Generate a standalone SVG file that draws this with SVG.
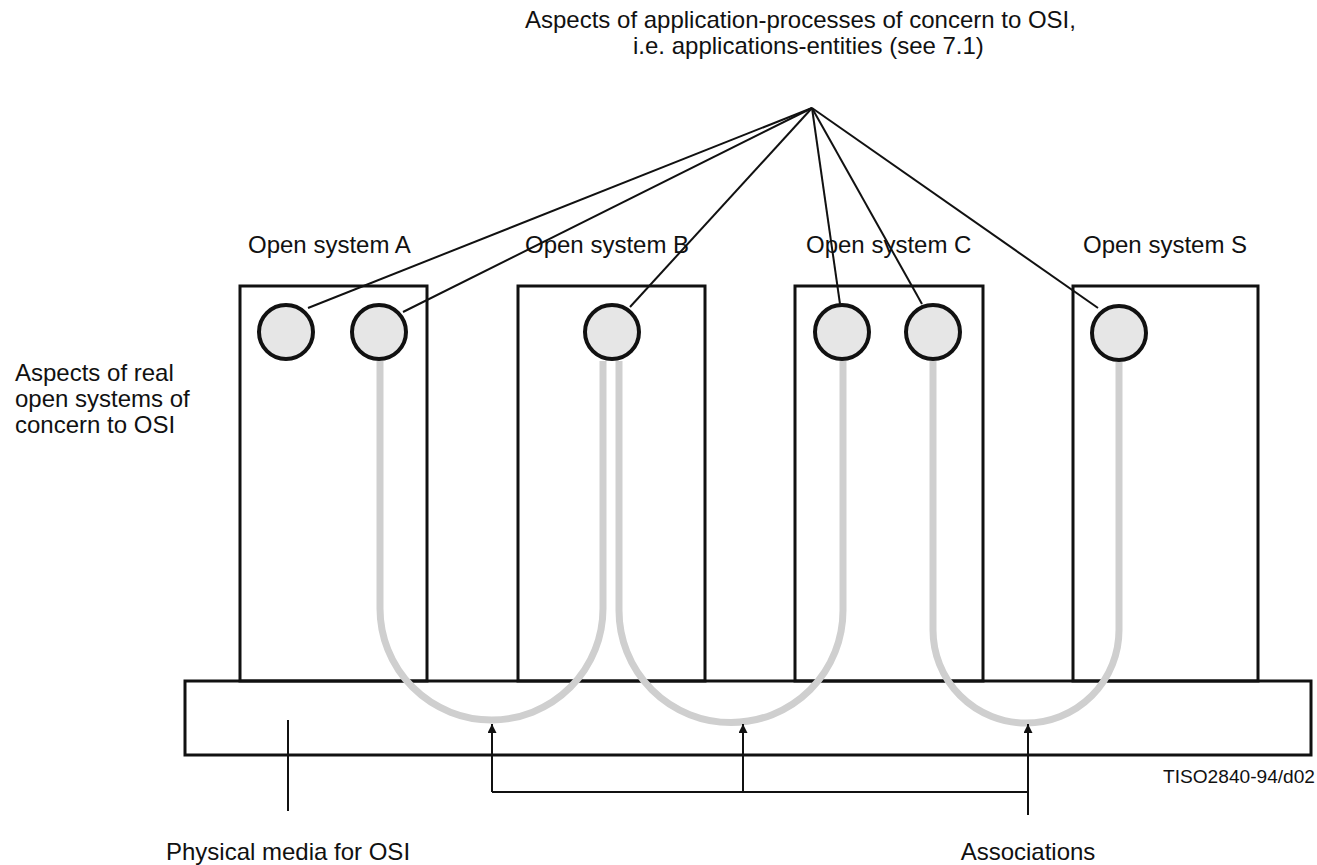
<svg xmlns="http://www.w3.org/2000/svg" width="1317" height="865" viewBox="0 0 1317 865">
<defs>
<style>
.t{font-family:"Liberation Sans",Arial,sans-serif;font-size:24px;fill:#111}
.box{fill:none;stroke:#111;stroke-width:3}
.ae{fill:#e6e6e6;stroke:#111;stroke-width:4}
.lead{stroke:#111;stroke-width:2;fill:none}
.tube{fill:none;stroke:#cfcfcf;stroke-width:7}
.ptr{stroke:#111;stroke-width:2;fill:none}
</style>
<marker id="ah" viewBox="0 0 10 10" refX="10" refY="5" markerWidth="9" markerHeight="9" markerUnits="userSpaceOnUse" orient="auto">
<path d="M0,0 L10,5 L0,10 z" fill="#111"/>
</marker>
</defs>
<rect width="1317" height="865" fill="#fff"/>

<g id="title">
<text class="t" x="525" y="28">Aspects of application-processes of concern to OSI,</text>
<text class="t" x="633" y="54">i.e. applications-entities (see 7.1)</text>
</g>

<g id="label-real">
<text class="t" x="15" y="381">Aspects of real</text>
<text class="t" x="15" y="407">open systems of</text>
<text class="t" x="15" y="433">concern to OSI</text>
</g>

<g id="physical-media">
<rect class="box" x="185" y="681" width="1126" height="74"/>
</g>

<g id="open-system-A">
<text class="t" x="248" y="253">Open system A</text>
<rect class="box" x="240" y="286" width="187" height="395"/>
<circle class="ae" cx="286" cy="332" r="27"/>
<circle class="ae" cx="379" cy="332" r="27"/>
</g>
<g id="open-system-B">
<text class="t" x="525" y="253">Open system B</text>
<rect class="box" x="518" y="286" width="187" height="395"/>
<circle class="ae" cx="612" cy="332" r="27"/>
</g>
<g id="open-system-C">
<text class="t" x="806" y="253">Open system C</text>
<rect class="box" x="795" y="286" width="188" height="395"/>
<circle class="ae" cx="842" cy="332" r="27"/>
<circle class="ae" cx="933" cy="332" r="27"/>
</g>
<g id="open-system-S">
<text class="t" x="1083" y="253">Open system S</text>
<rect class="box" x="1073" y="286" width="185" height="395"/>
<circle class="ae" cx="1119" cy="333" r="27"/>
</g>

<g id="connectors">
<g id="associations">
<path class="tube" d="M380,361 V608.5 A111.5,111.5 0 0 0 603,608.5 V361"/>
<path class="tube" d="M619,361 V610.5 A112,112 0 0 0 843,610.5 V361"/>
<path class="tube" d="M933,361 V630 A93,93 0 0 0 1119,630 V362"/>
</g>
<g id="leaders">
<line class="lead" x1="812" y1="108" x2="308" y2="308"/>
<line class="lead" x1="812" y1="108" x2="403" y2="312"/>
<line class="lead" x1="812" y1="108" x2="630" y2="307"/>
<line class="lead" x1="812" y1="108" x2="840" y2="304"/>
<line class="lead" x1="812" y1="108" x2="922" y2="304"/>
<line class="lead" x1="812" y1="108" x2="1098" y2="308"/>
</g>
<g id="assoc-pointer">
<path class="ptr" d="M492,792 H1028"/>
<line class="ptr" x1="492" y1="792" x2="492" y2="724" marker-end="url(#ah)"/>
<line class="ptr" x1="743" y1="792" x2="743" y2="724" marker-end="url(#ah)"/>
<line class="ptr" x1="1028" y1="815" x2="1028" y2="724" marker-end="url(#ah)"/>
</g>
<line id="media-pointer" class="ptr" x1="288" y1="720" x2="288" y2="811"/>
</g>

<g id="captions">
<text class="t" x="288" y="860" text-anchor="middle">Physical media for OSI</text>
<text class="t" x="1028" y="860" text-anchor="middle">Associations</text>
<text class="t" x="1163" y="783" style="font-size:18px" textLength="152" lengthAdjust="spacingAndGlyphs">TISO2840-94/d02</text>
</g>
</svg>
